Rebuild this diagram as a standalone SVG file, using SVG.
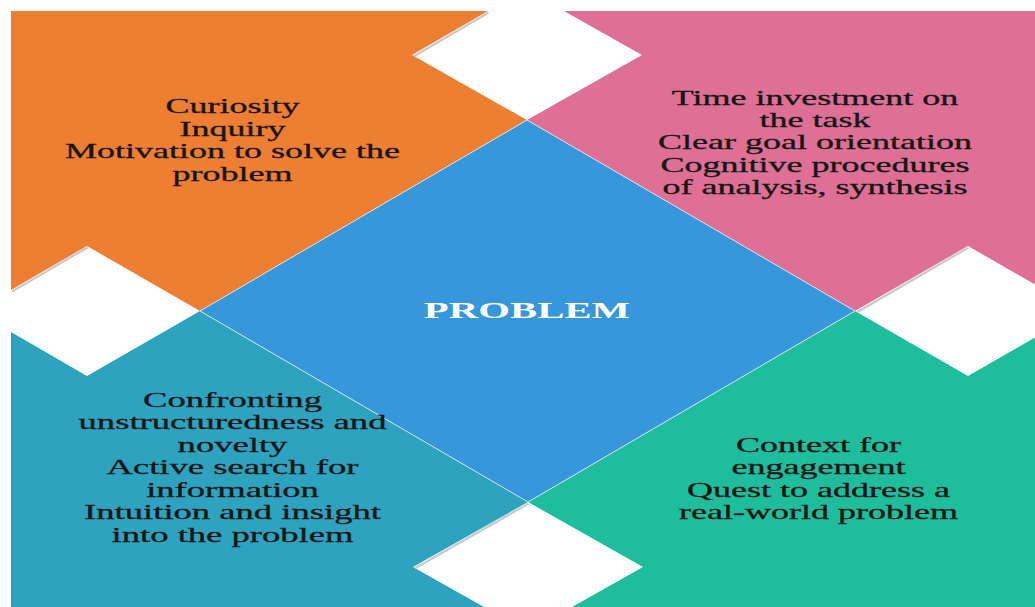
<svg xmlns="http://www.w3.org/2000/svg" width="1035" height="607" viewBox="0 0 1035 607">
  <style>
    .body { font-family: "Liberation Serif", "Times New Roman", serif; font-size: 20px; fill: #161616; stroke: #161616; stroke-width: 0.3; text-anchor: middle; }
    .title { font-family: "Liberation Serif", "Times New Roman", serif; font-size: 24px; font-weight: bold; fill: #ffffff; text-anchor: middle; }
    .notch-shadow { fill: none; stroke: #c8c8c8; stroke-width: 2.2; stroke-linecap: butt; }
  </style>

  <rect x="0" y="0" width="1035" height="607" fill="#ffffff"/>

  <!-- four puzzle quadrants -->
  <g id="quadrant-curiosity">
    <polygon points="11,11 488,11 412,55 527,120 200,311 87,246 11,290" fill="#ED7E32"/>
  </g>
  <g id="quadrant-time">
    <polygon points="564,11 1035,11 1035,284.5 968,246 855,311 527,120 642,55" fill="#DD7094"/>
  </g>
  <g id="quadrant-confronting">
    <polygon points="11,332 87,376 200,311 528,502 413,567 484,607 11,607" fill="#2EA3BF"/>
  </g>
  <g id="quadrant-context">
    <polygon points="855,311 968,376 1035,337.5 1035,607 572,607 643,567 528,502" fill="#1EBD9B"/>
  </g>

  <!-- soft shading along the upper-left edges of the white notches -->
  <g id="notch-shading">
    <polyline class="notch-shadow" points="414,56.2 488.5,12.6"/>
    <polyline class="notch-shadow" points="12,291.6 88,247.2"/>
    <polyline class="notch-shadow" points="857,312.2 968.5,247.6"/>
    <polyline class="notch-shadow" points="415,568.2 528.5,503.6"/>
  </g>

  <!-- central diamond -->
  <g id="node-problem">
    <polygon points="527,120 855,311 528,502 200,311" fill="#3697DA" stroke="#e8f2fa" stroke-opacity="0.8" stroke-width="1"/>
    <g transform="translate(527,0) scale(1.7,1)">
      <text class="title" x="0" y="318">PROBLEM</text>
    </g>
  </g>

  <!-- quadrant labels -->
  <g id="label-curiosity" transform="translate(232.5,0) scale(1.8,1)">
    <text class="body" x="0" y="113">Curiosity</text>
    <text class="body" x="0" y="135.6">Inquiry</text>
    <text class="body" x="0" y="158.2">Motivation to solve the</text>
    <text class="body" x="0" y="180.8">problem</text>
  </g>
  <g id="label-time" transform="translate(815,0) scale(1.8,1)">
    <text class="body" x="0" y="105">Time investment on</text>
    <text class="body" x="0" y="127.2">the task</text>
    <text class="body" x="0" y="149.4">Clear goal orientation</text>
    <text class="body" x="0" y="171.6">Cognitive procedures</text>
    <text class="body" x="0" y="193.8">of analysis, synthesis</text>
  </g>
  <g id="label-confronting" transform="translate(232.5,0) scale(1.83,1)">
    <text class="body" x="0" y="407">Confronting</text>
    <text class="body" x="0" y="429.5">unstructuredness and</text>
    <text class="body" x="0" y="452">novelty</text>
    <text class="body" x="0" y="474.5">Active search for</text>
    <text class="body" x="0" y="497">information</text>
    <text class="body" x="0" y="519.5">Intuition and insight</text>
    <text class="body" x="0" y="542">into the problem</text>
  </g>
  <g id="label-context" transform="translate(818.5,0) scale(1.8,1)">
    <text class="body" x="0" y="452">Context for</text>
    <text class="body" x="0" y="474.5">engagement</text>
    <text class="body" x="0" y="497">Quest to address a</text>
    <text class="body" x="0" y="519.5">real-world problem</text>
  </g>
</svg>
